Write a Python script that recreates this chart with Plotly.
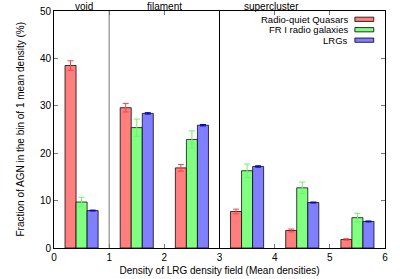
import plotly.graph_objects as go

x_centers = [0.5, 1.5, 2.5, 3.5, 4.5, 5.5]
series_names = ["Radio-quiet Quasars", "FR I radio galaxies", "LRGs"]
rq_quasars = [38.5, 29.6, 16.9, 7.7, 3.7, 1.8]
rq_quasars_err = [1.0, 0.9, 0.7, 0.5, 0.3, 0.15]
fr1_galaxies = [9.7, 25.4, 22.9, 16.3, 12.7, 6.4]
fr1_galaxies_err = [1.0, 1.8, 1.8, 1.4, 1.2, 0.9]
lrgs = [7.9, 28.4, 25.9, 17.2, 9.6, 5.6]
lrgs_err = [0.1, 0.15, 0.15, 0.15, 0.1, 0.1]
region_labels = ["void", "filament", "supercluster"]
region_label_x = [0.55, 2.0, 3.95]
dividers = [1, 3]
divider_colors = ["#777777", "#000000"]
y_title = "Fraction of AGN in the bin of 1 mean density (%)"
x_title = "Density of LRG density field (Mean densities)"

fills = ["#ff7f7f", "#80ff80", "#7f7fff"]
err_colors = ["#ff4040", "#70f070", "#0000c0"]
values = [rq_quasars, fr1_galaxies, lrgs]
errors = [rq_quasars_err, fr1_galaxies_err, lrgs_err]

FONT = "Liberation Sans, Arial, Helvetica, sans-serif"

fig = go.Figure()
for name, v, e, fc, ec in zip(series_names, values, errors, fills, err_colors):
    fig.add_trace(go.Bar(
        x=x_centers, y=v, name=name,
        marker=dict(color=fc, line=dict(color="rgba(0,0,0,0.75)", width=1)),
        error_y=dict(type="data", array=e, color=ec, thickness=1, width=3),
        showlegend=False,
    ))

shapes = []
for d, c in zip(dividers, divider_colors):
    shapes.append(dict(type="line", xref="x", yref="paper", x0=d, x1=d, y0=0, y1=1,
                       line=dict(color=c, width=1)))

annotations = []
for lab, lx in zip(region_labels, region_label_x):
    annotations.append(dict(text=lab, x=lx, xref="x", y=1.0, yref="paper",
                            yanchor="bottom", xanchor="center", showarrow=False,
                            font=dict(family=FONT, size=10, color="#000"), yshift=-3))

annotations.append(dict(text=y_title, x=0, xref="paper", y=0.5, yref="paper",
                        xanchor="center", yanchor="middle", textangle=-90,
                        xshift=-34, showarrow=False,
                        font=dict(family=FONT, size=10, color="#000")))

leg_y = [0.965, 0.921, 0.877]
for name, fc, ly in zip(series_names, fills, leg_y):
    annotations.append(dict(text=name, x=0.89, xref="paper", y=ly, yref="paper",
                            xanchor="right", yanchor="middle", showarrow=False,
                            borderpad=0,
                            font=dict(family=FONT, size=9.5, color="#000")))
    shapes.append(dict(type="rect", xref="paper", yref="paper", x0=0.909, x1=0.966,
                       y0=ly - 0.009, y1=ly + 0.009, fillcolor=fc,
                       line=dict(color="rgba(0,0,0,0.8)", width=1)))

fig.update_layout(
    width=400, height=279,
    margin=dict(l=54, r=15, t=11, b=31),
    paper_bgcolor="white", plot_bgcolor="white",
    barmode="group", bargap=0.4, bargroupgap=0,
    font=dict(family=FONT, size=10, color="#000"),
    shapes=shapes, annotations=annotations,
    xaxis=dict(range=[0, 6], tickvals=[0, 1, 2, 3, 4, 5, 6], ticks="inside", ticklen=4,
               tickcolor="#777", showline=True, linecolor="#000", linewidth=1, mirror="ticks",
               showgrid=False, zeroline=False, tickfont=dict(size=10), automargin=False,
               title=dict(text=x_title, font=dict(size=10), standoff=4)),
    yaxis=dict(range=[0, 50], tickvals=[0, 10, 20, 30, 40, 50], ticks="inside", ticklen=4,
               tickcolor="#777", showline=True, linecolor="#000", linewidth=1, mirror="ticks",
               showgrid=False, zeroline=False, tickfont=dict(size=10), automargin=False),
)

fig.write_html("out.html", config={"displayModeBar": False},
               post_script="document.body.style.margin='0px';")
